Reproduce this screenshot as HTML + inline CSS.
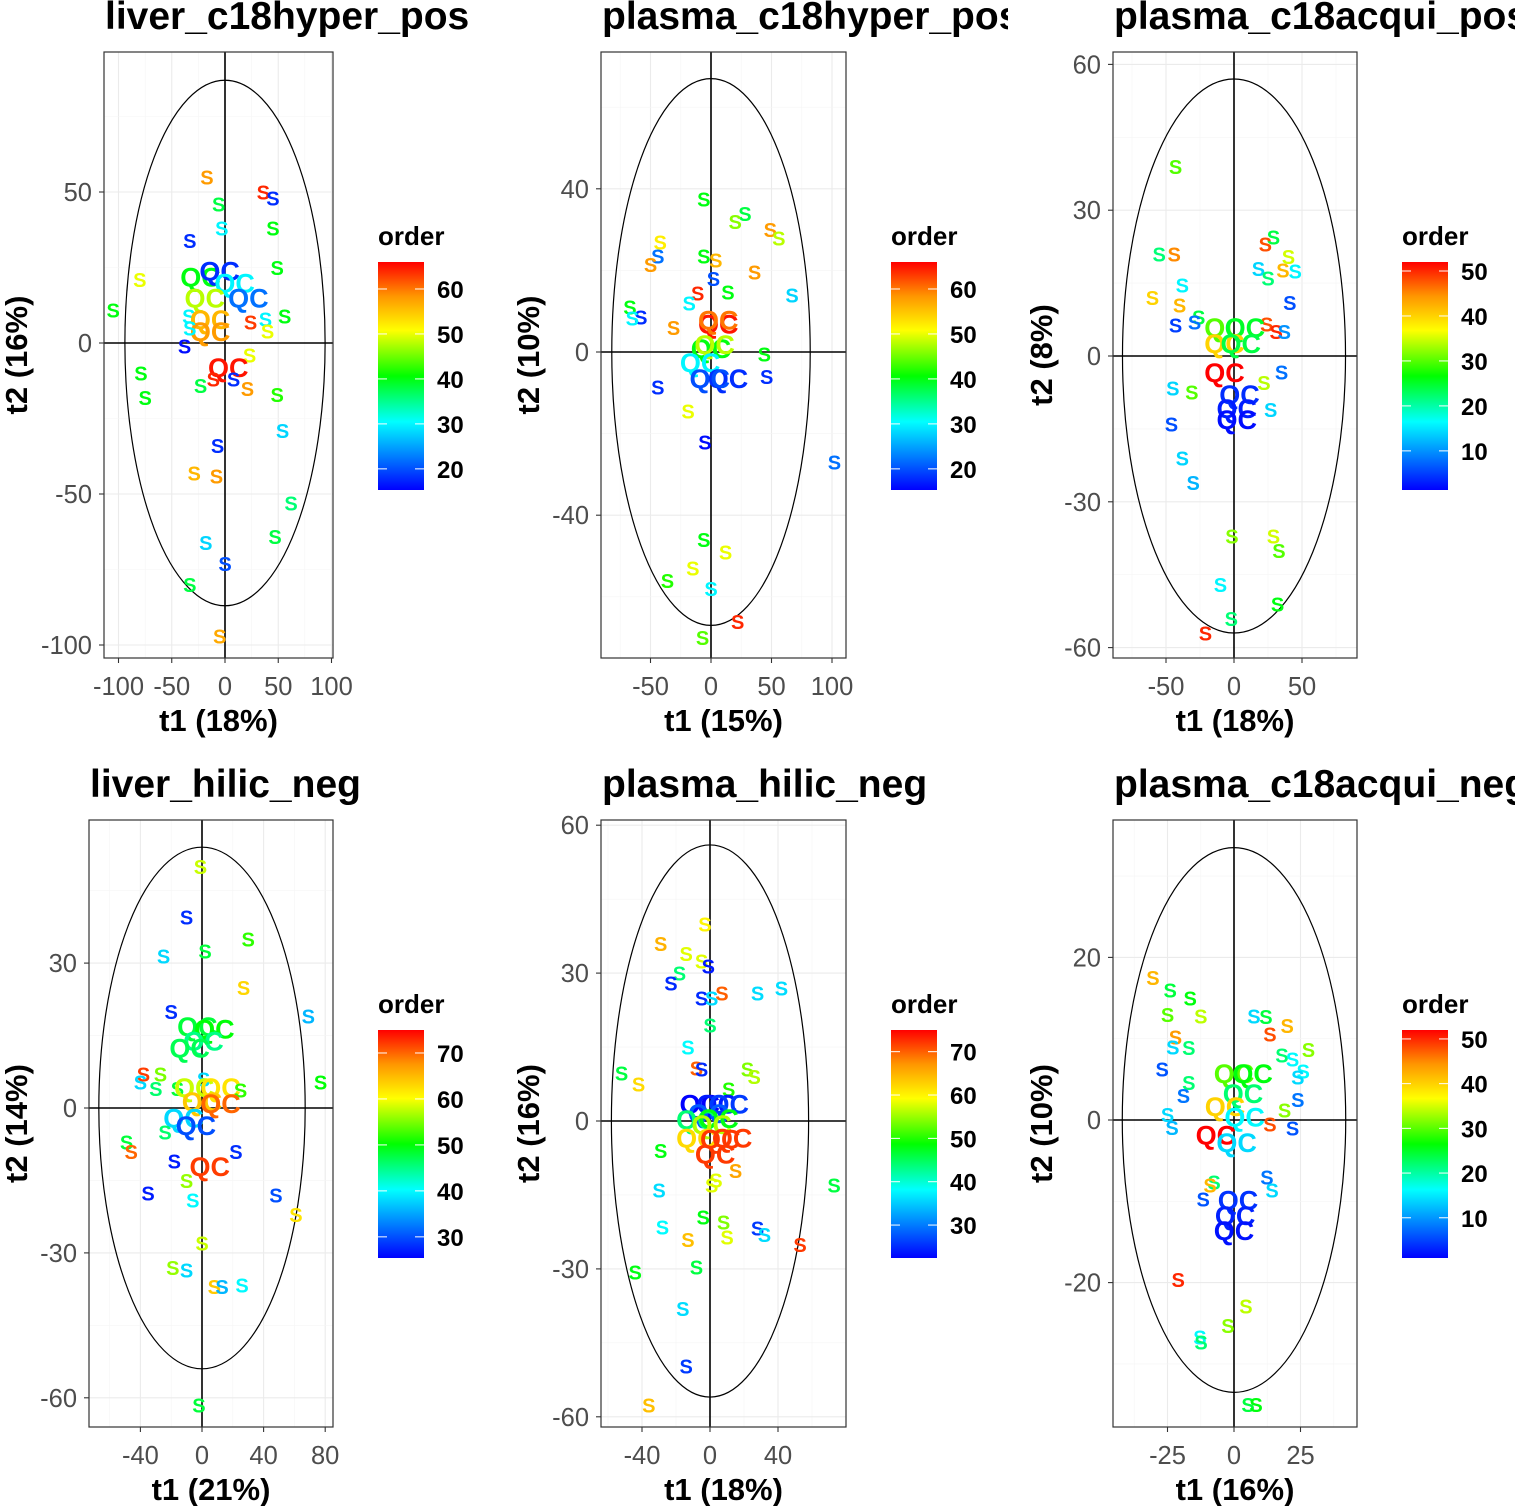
<!DOCTYPE html>
<html><head><meta charset="utf-8"><style>
html,body{margin:0;padding:0;background:#fff;overflow:hidden;width:1521px;height:1506px;}
svg{display:block;font-family:"Liberation Sans",sans-serif;}
</style></head><body>
<svg id="c" width="1521" height="1506" viewBox="0 0 1521 1506"></svg>
<script>
// ---- data arrays (t1, t2, order, label) ----
const p1_t1=[-17,36,45,-6,-3,45,-33,49,-80,-23,-5,9,22,-19,-105,-34,56,38,-14,-14,24,40,-33,-38,23,3,-79,-11,8,-23,21,-75,49,54,-7,-29,-8,62,47,-18,0,-33,-5];
const p1_t2=[55,50,48,46,38,38,34,25,21,22,24,20,15,15,11,9,9,8,8,4,7,4,5,-1,-4,-8,-10,-12,-12,-14,-15,-18,-17,-29,-34,-43,-44,-53,-64,-66,-73,-80,-97];
const p1_ord=[58,64,18,38,30,40,18,40,50,40,18,30,22,48,40,30,40,30,56,58,63,50,30,16,50,65,40,64,18,38,58,40,42,28,18,56,58,36,38,28,20,38,57];
const p1_lab=["S","S","S","S","S","S","S","S","S","QC","QC","QC","QC","QC","S","S","S","S","QC","QC","S","S","S","S","S","QC","S","S","S","S","S","S","S","S","S","S","S","S","S","S","S","S","S"];

const p2_t1=[-6,28,20,49,56,-42,-44,-50,-6,4,36,2,-11,14,67,-18,-67,-58,-65,-31,6,6,0,3,44,-9,46,14,-1,-44,-19,-5,102,-6,12,-15,-36,0,22,-7];
const p2_t2=[37.5,34,32,30,28,27,23.5,21.5,23.5,22.5,19.6,18,14.5,14.7,14,12,11,8.6,8.3,6,7,8,1,2,-0.5,-2.5,-6,-6.4,-6.4,-8.6,-14.5,-22,-27,-46,-49,-53,-56,-58,-66,-70];
const p2_ord=[40,38,46,58,48,52,22,58,40,56,58,20,64,40,28,30,40,18,30,58,65,60,40,48,40,30,18,18,20,18,50,16,22,40,50,50,42,30,64,44];
const p2_lab=["S","S","S","S","S","S","S","S","S","S","S","S","S","S","S","S","S","S","S","S","QC","QC","QC","QC","S","QC","S","QC","QC","S","S","S","S","S","S","S","S","S","S","S"];

const p3_t1=[-43,-55,-44,29,23,40,18,45,36,25,-38,-60,41,-40,-26,-43,-29,24,31,37,-7,8,-7,5,-7,35,22,-45,-31,4,2,2,27,-46,-38,-30,-1.5,29,33,-10,-2,32,-21];
const p3_t2=[39,21,21,24.5,23,20.5,18,17.5,17.7,16,14.6,12,11,10.5,8,6.4,7,6.6,5,5,6,6,2.7,2.7,-3.3,-3.3,-5.5,-6.6,-7.4,-7.8,-10.7,-13,-11,-14,-21,-26,-37,-37,-40,-47,-54,-51,-57];
const p3_ord=[30,22,45,24,48,35,14,16,42,22,16,40,6,42,24,5,8,48,50,10,30,25,40,24,52,8,34,14,30,4,3,2,14,6,14,12,32,35,30,16,22,26,50];
const p3_lab=["S","S","S","S","S","S","S","S","S","S","S","S","S","S","S","S","S","S","S","S","QC","QC","QC","QC","QC","S","S","S","S","QC","QC","QC","S","S","S","S","S","S","S","S","S","S","S"];

const p4_t1=[-1,-10,2,30,-25,27,-20,69,-3,8,1,-8,-38,-27,-40,77,-30,-16,1,-5,12,25,0,12,-12,-4,-24,-49,-46,-18,5,22,-10,-35,48,-6,61,0,-19,-10,8,13,26,-2];
const p4_t2=[50,39.5,32.5,35,31.5,25,20,19,17,16.5,14,12.5,7,7,5.4,5.4,4,4,6,4.3,4.3,3.7,1.5,1,-2,-3.5,-5,-7,-9,-11,-12,-9,-15,-17.6,-18,-19,-22,-28,-33,-33.5,-37,-37,-36.6,-61.5];
const p4_ord=[58,28,48,52,38,63,28,36,48,50,45,47,72,55,38,50,46,48,38,58,62,52,64,70,38,30,46,48,70,27,72,28,56,27,30,40,62,58,56,38,64,36,40,48];
const p4_lab=["S","S","S","S","S","S","S","S","QC","QC","QC","QC","S","S","S","S","S","S","S","QC","QC","S","QC","QC","QC","QC","S","S","S","S","QC","S","S","S","S","S","S","S","S","S","S","S","S","S"];

const p5_t1=[-3,-29,-14,-5,-1,-18,-23,7,-5,1,28,42,0,-13,-8,-5,-52,-42,22,26,11,-6,4,11,-1,-8,5,1,-8,6,3,13,15,3.5,1,-29,73,-30,-4,8,10,-28,28,32,-13,53,-8,-44,-16,-14,-36];
const p5_t2=[40,36,34,32.5,31.4,30,28,26,25,25,26,27,19.5,15,10.7,10.5,9.7,7.5,10.5,9,6.5,3.5,3.5,3.5,1.6,0.4,0.6,-0.6,-3.3,-3.5,-6.6,-3.3,-10,-12,-13,-6,-13,-14,-19.5,-20.5,-23.5,-21.5,-21.7,-23,-24,-25,-29.6,-30.6,-38,-49.7,-57.6];
const p5_ord=[60,65,58,58,24,44,25,70,25,36,36,36,44,38,70,25,46,62,54,56,50,22,24,26,28,44,48,56,62,72,72,72,66,58,58,48,46,36,48,54,58,38,26,36,64,72,46,48,36,26,64];
const p5_lab=["S","S","S","S","S","S","S","S","S","S","S","S","S","S","S","S","S","S","S","S","S","QC","QC","QC","QC","QC","QC","QC","QC","QC","QC","QC","S","S","S","S","S","S","S","S","S","S","S","S","S","S","S","S","S","S","S"];

const p6_t1=[-30.5,-24,-16.5,-25,-12.5,7.5,12,20,13.5,-22,-23,-17,28,18,22,26,24,-27,-17,-19,0,7,3.4,-3.4,4,24,19,13.5,22,-25,-23.3,-6.8,1,12.4,14.3,-7.5,-9,-11.6,1.5,0.4,0,-21,4.5,-2.3,-12.8,-12.4,5.3,8.3];
const p6_t2=[17.5,16,15,13,12.8,12.8,12.7,11.6,10.6,10.2,9,8.9,8.7,8,7.5,6,5.3,6.3,4.6,3,5.8,5.8,3.3,1.7,0.4,2.5,1.2,-0.5,-1,0.7,-0.9,-1.8,-2.7,-7,-8.6,-7.6,-8,-9.7,-9.8,-11.7,-13.5,-19.6,-22.9,-25.3,-26.7,-27.3,-35,-35];
const p6_ord=[42,24,26,30,34,14,24,42,48,44,14,22,32,22,16,16,14,6,22,8,30,26,22,40,16,8,32,48,6,14,12,52,14,8,14,22,42,6,4,3,2,50,34,32,16,22,24,26];
const p6_lab=["S","S","S","S","S","S","S","S","S","S","S","S","S","S","S","S","S","S","S","S","QC","QC","QC","QC","QC","S","S","S","S","S","S","QC","QC","S","S","S","S","S","QC","QC","QC","S","S","S","S","S","S","S"];

// tick labels
const p1_xt=[-100,-50,0,50,100], p1_yt=[50,0,-50,-100], p1_lt=[20,30,40,50,60];
const p2_xt=[-50,0,50,100], p2_yt=[40,0,-40], p2_lt=[20,30,40,50,60];
const p3_xt=[-50,0,50], p3_yt=[60,30,0,-30,-60], p3_lt=[10,20,30,40,50];
const p4_xt=[-40,0,40,80], p4_yt=[30,0,-30,-60], p4_lt=[30,40,50,60,70];
const p5_xt=[-40,0,40], p5_yt=[60,30,0,-30,-60], p5_lt=[30,40,50,60,70];
const p6_xt=[-25,0,25], p6_yt=[20,0,-20], p6_lt=[10,20,30,40,50];

// ---- layout configs ----
const panels=[
 {name:"liver_c18hyper_pos",xl:"t1 (18%)",yl:"t2 (16%)",t1:p1_t1,t2:p1_t2,o:p1_ord,l:p1_lab,xt:p1_xt,yt:p1_yt,lt:p1_lt,
  col:0,L:104,T:52,R:333,B:658,x0:225,sx:1.065,y0:343,sy:3.02,rx:94,ry:87,omin:15.3,omax:66,ytx:4,tx:105},
 {name:"plasma_c18hyper_pos",xl:"t1 (15%)",yl:"t2 (10%)",t1:p2_t1,t2:p2_t2,o:p2_ord,l:p2_lab,xt:p2_xt,yt:p2_yt,lt:p2_lt,
  col:507,L:601,T:52,R:846,B:658,x0:711,sx:1.21,y0:352,sy:4.08,rx:82,ry:67,omin:15.3,omax:66,ytx:516,tx:602},
 {name:"plasma_c18acqui_pos",xl:"t1 (18%)",yl:"t2 (8%)",t1:p3_t1,t2:p3_t2,o:p3_ord,l:p3_lab,xt:p3_xt,yt:p3_yt,lt:p3_lt,
  col:1014,L:1113,T:52,R:1357,B:658,x0:1234,sx:1.36,y0:356,sy:4.86,rx:82,ry:57,omin:1.3,omax:52,ytx:1029,tx:1114},
 {name:"liver_hilic_neg",xl:"t1 (21%)",yl:"t2 (14%)",t1:p4_t1,t2:p4_t2,o:p4_ord,l:p4_lab,xt:p4_xt,yt:p4_yt,lt:p4_lt,
  col:0,L:89,T:820,R:333,B:1427,x0:202,sx:1.54,y0:1108,sy:4.83,rx:67,ry:54,omin:25.4,omax:75,ytx:4,tx:90},
 {name:"plasma_hilic_neg",xl:"t1 (18%)",yl:"t2 (16%)",t1:p5_t1,t2:p5_t2,o:p5_ord,l:p5_lab,xt:p5_xt,yt:p5_yt,lt:p5_lt,
  col:507,L:601,T:820,R:846,B:1427,x0:710,sx:1.7,y0:1121,sy:4.93,rx:58,ry:56,omin:22.4,omax:75,ytx:516,tx:602},
 {name:"plasma_c18acqui_neg",xl:"t1 (16%)",yl:"t2 (10%)",t1:p6_t1,t2:p6_t2,o:p6_ord,l:p6_lab,xt:p6_xt,yt:p6_yt,lt:p6_lt,
  col:1014,L:1113,T:820,R:1357,B:1427,x0:1234,sx:2.66,y0:1120,sy:8.13,rx:42,ry:33.5,omin:1,omax:52,ytx:1029,tx:1114}
];

const stops=[[0,[0,0,255]],[0.15,[0,128,255]],[0.3,[0,255,255]],[0.5,[0,255,0]],[0.7,[255,255,0]],[0.85,[255,150,0]],[1,[255,0,0]]];
function col(f){f=Math.max(0,Math.min(1,f));for(let i=1;i<stops.length;i++){if(f<=stops[i][0]){const a=stops[i-1],b=stops[i];const t=(f-a[0])/(b[0]-a[0]);const c=a[1].map((v,k)=>Math.round(v+(b[1][k]-v)*t));return `rgb(${c[0]},${c[1]},${c[2]})`;}}return "rgb(255,0,0)";}

const NS="http://www.w3.org/2000/svg";
const svg=document.getElementById("c");
function mk(tag,attrs,parent,text){const e=document.createElementNS(NS,tag);for(const k in attrs)e.setAttribute(k,attrs[k]);if(text!==undefined)e.textContent=text;(parent||svg).appendChild(e);return e;}

const defs=mk("defs",{});
panels.forEach((p,pi)=>{
  const top=p.T<400?0:768;
  const cp=mk("clipPath",{id:"col"+pi},defs);mk("rect",{x:p.col,y:top,width:501,height:738},cp);
  const pc=mk("clipPath",{id:"plot"+pi},defs);mk("rect",{x:p.L,y:p.T,width:p.R-p.L,height:p.B-p.T},pc);
  const g=mk("g",{"clip-path":`url(#col${pi})`});
  
  
  const X=v=>p.x0+p.sx*v, Y=v=>p.y0-p.sy*v;
  const tt=mk("text",{x:p.tx,y:top+29,"font-size":"39","font-weight":"bold",fill:"#000"},g,p.name);
  
  
  const grid=mk("g",{"clip-path":`url(#plot${pi})`},g);
  
  
  const dx=p.xt[1]-p.xt[0], dy=p.yt[0]-p.yt[1];
  for(let v=p.xt[0]-3*dx;v<=p.xt[p.xt.length-1]+3*dx;v+=dx/2){
    const maj=Math.abs((v/dx)-Math.round(v/dx))<1e-6;
    mk("line",{x1:X(v),x2:X(v),y1:p.T,y2:p.B,stroke:maj?"#ebebeb":"#f5f5f5","stroke-width":maj?1.1:0.6},grid);}
  for(let v=p.yt[p.yt.length-1]-3*dy;v<=p.yt[0]+3*dy;v+=dy/2){
    const maj=Math.abs((v/dy)-Math.round(v/dy))<1e-6;
    mk("line",{y1:Y(v),y2:Y(v),x1:p.L,x2:p.R,stroke:maj?"#ebebeb":"#f5f5f5","stroke-width":maj?1.1:0.6},grid);}
  const el=mk("ellipse",{cx:X(0),cy:Y(0),rx:p.rx*p.sx,ry:p.ry*p.sy,fill:"none",stroke:"#000","stroke-width":1.2,"clip-path":`url(#plot${pi})`},g);
  
  
  const zl=mk("g",{stroke:"#000","stroke-width":1.6},g);
  
  
  mk("line",{x1:X(0),x2:X(0),y1:p.T,y2:p.B},zl);
  mk("line",{x1:p.L,x2:p.R,y1:Y(0),y2:Y(0)},zl);
  const pts=mk("g",{"clip-path":`url(#plot${pi})`,"font-weight":"bold","text-anchor":"middle"},g);
  
  
  for(let i=0;i<p.t1.length;i++){
    const qc=p.l[i]==="QC";
    const t=mk("text",{x:X(p.t1[i]),y:Y(p.t2[i])+(qc?10:7.5),"font-size":qc?27:20,fill:col((p.o[i]-p.omin)/(p.omax-p.omin))},pts,p.l[i]);
    
    
  }
  const bd=mk("rect",{x:p.L,y:p.T,width:p.R-p.L,height:p.B-p.T,fill:"none",stroke:"#333","stroke-width":1.2},g);
  
  
  const xa=mk("g",{"font-size":"25.5",fill:"#4d4d4d","text-anchor":"middle"},g);
  
  
  p.xt.forEach(v=>{mk("line",{x1:X(v),x2:X(v),y1:p.B,y2:p.B+5,stroke:"#333","stroke-width":1.1},xa);
    mk("text",{x:X(v),y:p.B+37},xa,String(v));});
  const ya=mk("g",{"font-size":"25.5",fill:"#4d4d4d","text-anchor":"end"},g);
  
  
  p.yt.forEach(v=>{mk("line",{x1:p.L-5,x2:p.L,y1:Y(v),y2:Y(v),stroke:"#333","stroke-width":1.1},ya);
    mk("text",{x:p.L-12,y:Y(v)+9},ya,String(v));});
  const xt=mk("text",{x:(p.L+p.R)/2,y:p.B+73,"font-size":"31","font-weight":"bold","text-anchor":"middle"},g,p.xl);
  
  
  const yc=(p.T+p.B)/2;
  const yt=mk("text",{x:p.ytx,y:yc+23,"font-size":"31","font-weight":"bold","text-anchor":"middle",transform:`rotate(-90 ${p.ytx} ${yc})`},g,p.yl);
  
  
  const lx=p.R+45, ly=p.T+210, lh=228, lw=46;
  const lg=mk("g",{},g);
  
  
  mk("text",{x:lx,y:ly-17,"font-size":"26","font-weight":"bold"},lg,"order");
  const gr=mk("linearGradient",{id:"lg"+pi,x1:0,y1:1,x2:0,y2:0},defs);
  stops.forEach(s=>mk("stop",{offset:s[0],"stop-color":col(s[0])},gr));
  mk("rect",{x:lx,y:ly,width:lw,height:lh,fill:`url(#lg${pi})`},lg);
  p.lt.forEach(v=>{const yy=ly+lh-(v-p.omin)/(p.omax-p.omin)*lh;
    mk("line",{x1:lx,x2:lx+9,y1:yy,y2:yy,stroke:"#fff","stroke-width":1},lg);
    mk("line",{x1:lx+lw-9,x2:lx+lw,y1:yy,y2:yy,stroke:"#fff","stroke-width":1},lg);
    mk("text",{x:lx+lw+13,y:yy+9,"font-size":"24","font-weight":"bold",fill:"#000"},lg,String(v));});
});
</script>
</body></html>
